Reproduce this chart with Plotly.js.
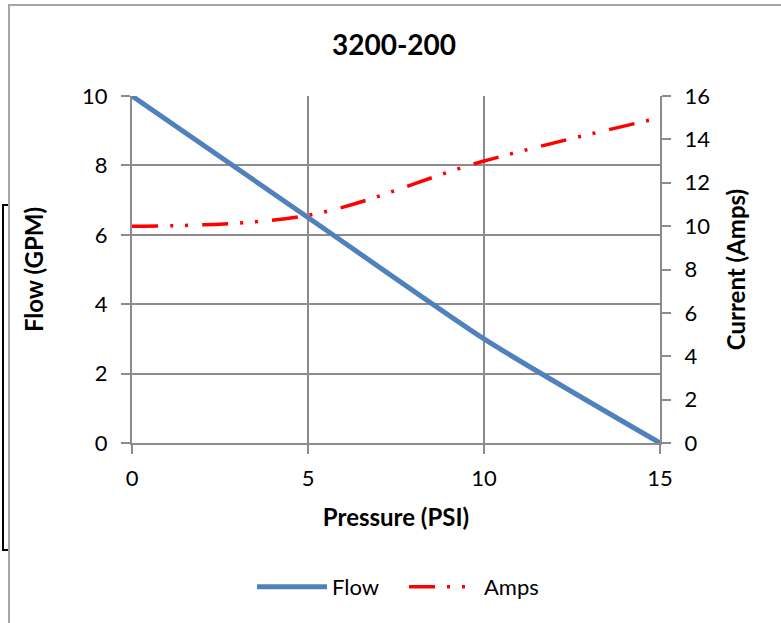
<!DOCTYPE html>
<html>
<head>
<meta charset="utf-8">
<script src="https://cdn.plot.ly/plotly-3.0.1.min.js"></script>
<style>
html,body{margin:0;padding:0;background:#fff;}
#chart{width:781px;height:623px;}
</style>
</head>
<body>
<div id="chart"></div>
<script>
const pressure = [0, 5, 10, 15];
const flowGPM = [10, 6.5, 3, 0];
const ampsCurrent = [10, 10.5, 13, 15];
const chartTitle = "3200-200";
const xTitle = "Pressure (PSI)";
const yTitle = "Flow (GPM)";
const y2Title = "Current (Amps)";

const FONT = "Lato, 'Open Sans', sans-serif";
const GRID = "#8c8c8c";
const W = 781, H = 623;
const L = 132, R = W - 660, T = 96, B = H - 443;
const pw = W - L - R, ph = H - T - B;
const px = v => (v - L) / pw;
const py = v => (H - B - v) / ph;

const traces = [
  {
    x: pressure, y: flowGPM, name: "Flow", type: "scatter", mode: "lines",
    line: {color: "#4f81bd", width: 5, shape: "spline", smoothing: 0.6},
    yaxis: "y"
  },
  {
    x: pressure, y: ampsCurrent, name: "Amps", type: "scatter", mode: "lines",
    line: {color: "#ff0000", width: 3.5, shape: "spline", smoothing: 1, dash: "26px,12px,3px,12px,3px,14px"},
    yaxis: "y2"
  }
];

const layout = {
  width: W, height: H,
  margin: {l: L, r: R, t: T, b: B, pad: 0},
  paper_bgcolor: "#fff", plot_bgcolor: "#fff",
  font: {family: FONT, color: "#000", size: 22},
  title: {text: "<b>" + chartTitle + "</b>", font: {family: FONT, size: 28, color: "#000"},
          x: px(394), xref: "paper", xanchor: "center", y: 1 - 45 / H, yanchor: "middle"},
  showlegend: true,
  legend: {orientation: "h", x: px(252), xanchor: "left", y: py(587), yanchor: "middle",
           itemwidth: 70, entrywidth: 67, entrywidthmode: "pixels",
           font: {family: FONT, size: 22, color: "#000"}, bgcolor: "rgba(0,0,0,0)"},
  xaxis: {
    range: [0, 15], dtick: 5, tick0: 0,
    showgrid: true, gridcolor: GRID, gridwidth: 2,
    showline: true, linecolor: GRID, linewidth: 2,
    zeroline: false,
    ticks: "outside", ticklen: 9, tickcolor: GRID, tickwidth: 2,
    ticklabelstandoff: 6,
    tickfont: {family: FONT, size: 22},
    title: {text: "<b>" + xTitle + "</b>", font: {family: FONT, size: 24}, standoff: 19},
    fixedrange: true
  },
  yaxis: {
    range: [0, 10], dtick: 2, tick0: 0,
    showgrid: true, gridcolor: GRID, gridwidth: 2,
    showline: true, linecolor: GRID, linewidth: 2,
    zeroline: false,
    ticks: "outside", ticklen: 9, tickcolor: GRID, tickwidth: 2,
    ticklabelstandoff: 9,
    tickfont: {family: FONT, size: 22},
    title: {text: "<b>" + yTitle + "</b>", font: {family: FONT, size: 24}, standoff: 32},
    fixedrange: true
  },
  yaxis2: {
    range: [0, 16], dtick: 2, tick0: 0,
    overlaying: "y", side: "right",
    showgrid: false,
    showline: true, linecolor: GRID, linewidth: 2,
    zeroline: false,
    ticks: "outside", ticklen: 9, tickcolor: GRID, tickwidth: 2,
    ticklabelstandoff: 9,
    tickfont: {family: FONT, size: 22},
    title: {text: "<b>" + y2Title + "</b>", font: {family: FONT, size: 24}, standoff: 19},
    fixedrange: true
  },
  shapes: [
    {type: "rect", xref: "paper", yref: "paper",
     x0: px(9), x1: px(800), y0: py(640), y1: py(5),
     line: {color: "#a6a6a6", width: 2}, fillcolor: "rgba(0,0,0,0)", layer: "below"},
    {type: "path", xref: "paper", yref: "paper",
     path: "M " + px(8) + " " + py(205) + " L " + px(3) + " " + py(205) +
           " L " + px(3) + " " + py(550) + " L " + px(8) + " " + py(550),
     line: {color: "#000", width: 2}}
  ]
};

Plotly.newPlot("chart", traces, layout, {displayModeBar: false, staticPlot: true});
</script>
</body>
</html>
